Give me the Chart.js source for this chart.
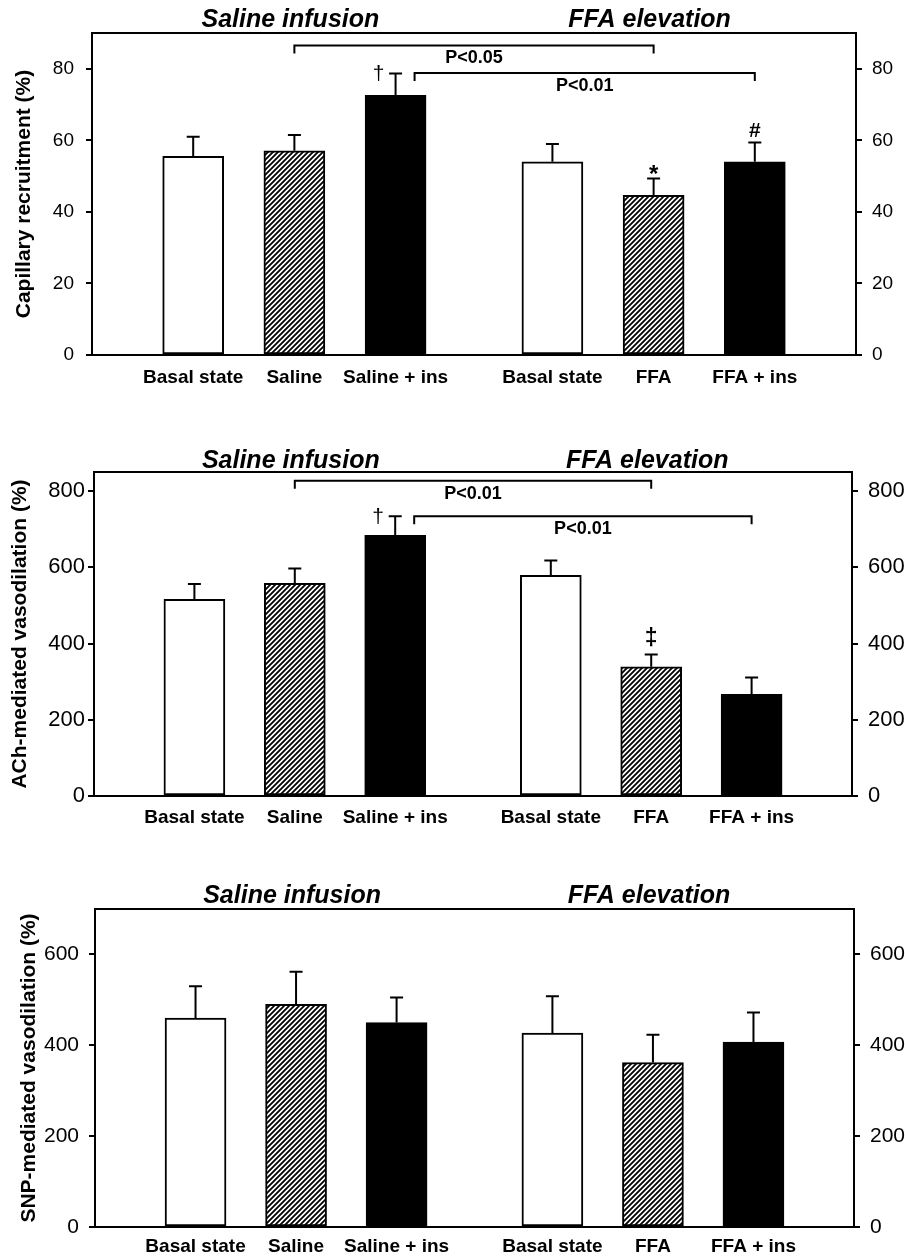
<!DOCTYPE html>
<html>
<head>
<meta charset="utf-8">
<title>Capillary recruitment and vasodilation</title>
<script src="https://cdn.jsdelivr.net/npm/chart.js@4.4.1/dist/chart.umd.min.js"></script>
<style>
  html, body { margin: 0; padding: 0; background: #fff; }
  .panel { position: absolute; left: 0; }
</style>
</head>
<body>
<canvas id="cap" class="panel" width="905" height="400" style="top:0"></canvas>
<canvas id="ach" class="panel" width="905" height="440" style="top:400px"></canvas>
<canvas id="snp" class="panel" width="905" height="418" style="top:840px"></canvas>
<script>
// bars, left group then right group
const groupTitles = ["Saline infusion", "FFA elevation"];
const barLabels = ["Basal state", "Saline", "Saline + ins", "Basal state", "FFA", "FFA + ins"];

// capillary recruitment (%), mean and SEM
const capMean = [55.5, 57.1, 72.6, 54.0, 44.6, 54.0];
const capSem = [5.5, 4.4, 6.1, 5.0, 4.7, 5.4];
const capTicks = [0, 20, 40, 60, 80];

// ACh-mediated vasodilation (%)
const achMean = [516, 558, 684, 579, 339, 267];
const achSem = [40, 39, 50, 39, 32, 44];
const achTicks = [0, 200, 400, 600, 800];

// SNP-mediated vasodilation (%)
const snpMean = [460, 490, 450, 427, 362, 407];
const snpSem = [70, 72, 55, 81, 61, 65];
const snpTicks = [0, 200, 400, 600];

// significance brackets (bar index from / to, height in data units)
const capBrackets = [
  { from: 1, to: 4, y: 86.5, label: "P<0.05" },
  { from: 2, to: 5, y: 78.8, label: "P<0.01" },
];
const achBrackets = [
  { from: 1, to: 4, y: 827, label: "P<0.01" },
  { from: 2, to: 5, y: 734, label: "P<0.01" },
];
const capMarks = [
  { bar: 2, sym: "†" },
  { bar: 4, sym: "*" },
  { bar: 5, sym: "#" },
];
const achMarks = [
  { bar: 2, sym: "†" },
  { bar: 4, sym: "‡" },
];

const FONT = "'Liberation Sans', Arial, Helvetica, sans-serif";
Chart.defaults.font.family = FONT;
Chart.defaults.color = "#000";

// x position of a bar: unit spacing, wider gap between the two groups
const slot = i => 1 + i + (i >= 3 ? 0.55 : 0);
const X_MAX = 7.55;

function hatch() {
  const c = document.createElement("canvas");
  c.width = c.height = 5;
  const g = c.getContext("2d");
  g.fillStyle = "#fff";
  g.fillRect(0, 0, 5, 5);
  g.strokeStyle = "#000";
  g.lineWidth = 1.8;
  g.beginPath();
  g.moveTo(-1, 6); g.lineTo(6, -1);
  g.moveTo(-1, 1); g.lineTo(1, -1);
  g.moveTo(4, 6); g.lineTo(6, 4);
  g.stroke();
  return g.createPattern(c, "repeat");
}
const HATCH = hatch();
const fills = ["#fff", HATCH, "#000", "#fff", HATCH, "#000"];

const markStyle = {
  "†": { font: "normal 21px " + FONT, dx: -17, dy: 0 },
  "*": { font: "bold 24px " + FONT, dx: 0, dy: -9 },
  "#": { font: "bold 21px " + FONT, dx: 0, dy: -12 },
  "‡": { font: "bold 23px " + FONT, dx: 0, dy: -18 },
};

function annotations(p) {
  return {
    id: "annotations",
    afterDatasetsDraw(chart) {
      const { ctx, chartArea: a, scales: { x, y } } = chart;
      ctx.save();
      ctx.strokeStyle = "#000";
      ctx.fillStyle = "#000";
      ctx.lineWidth = 2;

      // top edge of the frame
      ctx.beginPath();
      ctx.moveTo(a.left - 1, a.top);
      ctx.lineTo(a.right + 1, a.top);
      ctx.stroke();

      // upward SEM bars
      const tops = [];
      p.mean.forEach((m, i) => {
        const px = x.getPixelForValue(slot(i));
        const y0 = y.getPixelForValue(m);
        const y1 = y.getPixelForValue(m + p.sem[i]);
        tops.push(y1);
        ctx.beginPath();
        ctx.moveTo(px, y0);
        ctx.lineTo(px, y1);
        ctx.moveTo(px - 6.5, y1);
        ctx.lineTo(px + 6.5, y1);
        ctx.stroke();
      });

      // group headings above the frame
      ctx.font = "italic bold 25px " + FONT;
      ctx.textAlign = "center";
      ctx.textBaseline = "alphabetic";
      groupTitles.forEach((t, g) => {
        const px = x.getPixelForValue(slot(g * 3 + 1)) - 4;
        ctx.fillText(t, px, a.top - p.headGap);
      });

      // brackets
      (p.brackets || []).forEach(b => {
        const x1 = x.getPixelForValue(slot(b.from)) + (b.from === 2 ? 19 : 0); // clear the error cap
        const x2 = x.getPixelForValue(slot(b.to));
        const yy = y.getPixelForValue(b.y);
        ctx.beginPath();
        ctx.moveTo(x1, yy + 8);
        ctx.lineTo(x1, yy);
        ctx.lineTo(x2, yy);
        ctx.lineTo(x2, yy + 8);
        ctx.stroke();
        ctx.font = "bold 18px " + FONT;
        ctx.textBaseline = "middle";
        ctx.fillText(b.label, (x1 + x2) / 2, yy + 13);
      });

      // significance symbols
      (p.marks || []).forEach(m => {
        const st = markStyle[m.sym];
        ctx.font = st.font;
        ctx.textBaseline = "alphabetic";
        const mt = ctx.measureText(m.sym);
        const cx = x.getPixelForValue(slot(m.bar)) + st.dx;
        const cy = tops[m.bar] + st.dy;
        ctx.fillText(m.sym, cx, cy + (mt.actualBoundingBoxAscent - mt.actualBoundingBoxDescent) / 2);
      });
      ctx.restore();
    },
  };
}

function yAxis(p, side) {
  const left = side === "left";
  return {
    type: "linear",
    position: side,
    min: 0,
    max: p.max,
    afterBuildTicks: s => { s.ticks = p.ticks.map(v => ({ value: v })); },
    afterFit: s => { s.width = left ? p.box.left : p.box.right; },
    grid: { drawOnChartArea: false, drawTicks: true, tickLength: 6, color: "#000", lineWidth: 2 },
    border: { display: true, color: "#000", width: 2 },
    ticks: { font: { size: p.tickSize }, color: "#000", padding: left ? p.padL : p.padR },
    title: left
      ? { display: true, text: p.title, font: { size: 21, weight: "bold" }, color: "#000", padding: { top: p.titlePad, bottom: 0 } }
      : { display: false },
  };
}

function makePanel(p) {
  new Chart(document.getElementById(p.id), {
    type: "bar",
    data: {
      datasets: [{
        data: p.mean.map((v, i) => ({ x: slot(i), y: v })),
        backgroundColor: fills,
        borderColor: "#000",
        borderWidth: 2,
        borderSkipped: false,
        barThickness: 61,
      }],
    },
    options: {
      responsive: false,
      animation: false,
      layout: { padding: { top: p.box.top, left: 0, right: 0, bottom: 0 } },
      plugins: { legend: { display: false }, tooltip: { enabled: false } },
      scales: {
        x: {
          type: "linear",
          min: 0,
          max: X_MAX,
          offset: false,
          afterBuildTicks: s => { s.ticks = barLabels.map((_, i) => ({ value: slot(i) })); },
          afterFit: s => { s.height = p.box.bottom; },
          grid: { display: false, drawTicks: false },
          border: { display: true, color: "#000", width: 2 },
          ticks: {
            autoSkip: false,
            maxRotation: 0,
            padding: p.labelPad,
            font: { size: 19, weight: "bold" },
            color: "#000",
            callback: (v, i) => barLabels[i],
          },
        },
        y: yAxis(p, "left"),
        y2: yAxis(p, "right"),
      },
    },
    plugins: [annotations(p)],
  });
}

makePanel({
  id: "cap", mean: capMean, sem: capSem, ticks: capTicks, max: 90,
  title: "Capillary recruitment (%)", brackets: capBrackets, marks: capMarks,
  box: { top: 33, left: 92, right: 49, bottom: 45 },
  tickSize: 19, padL: 12, padR: 10, titlePad: 12, labelPad: 11, headGap: 6,
});
makePanel({
  id: "ach", mean: achMean, sem: achSem, ticks: achTicks, max: 850,
  title: "ACh-mediated vasodilation (%)", brackets: achBrackets, marks: achMarks,
  box: { top: 72, left: 94, right: 53, bottom: 44 },
  tickSize: 22, padL: 3, padR: 10, titlePad: 8, labelPad: 10, headGap: 4,
});
makePanel({
  id: "snp", mean: snpMean, sem: snpSem, ticks: snpTicks, max: 700,
  title: "SNP-mediated vasodilation (%)",
  box: { top: 69, left: 95, right: 51, bottom: 31 },
  tickSize: 21, padL: 10, padR: 10, titlePad: 17, labelPad: 8, headGap: 6,
});
</script>
</body>
</html>
